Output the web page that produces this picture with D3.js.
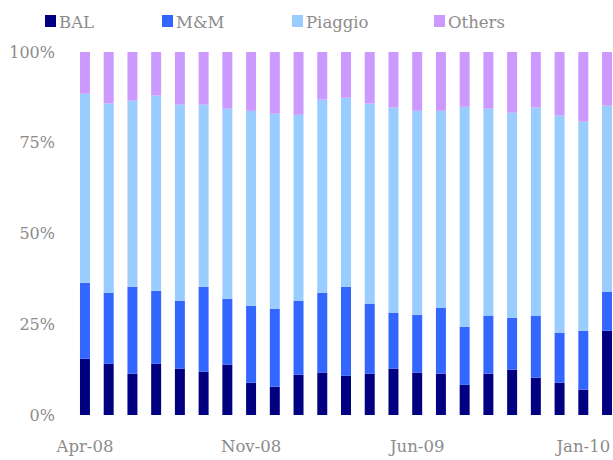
<!DOCTYPE html>
<html>
<head>
<meta charset="utf-8">
<script src="https://cdn.jsdelivr.net/npm/d3@7"></script>
<style>
  body { margin: 0; background: #fff; }
  text { font-family: "DejaVu Serif", serif; fill: #8c8c8c; }
</style>
</head>
<body>
<div class="chart"></div>
<script>
// monthly market share, Apr-08 .. Feb-10 (in %)
var months = ["Apr-08","May-08","Jun-08","Jul-08","Aug-08","Sep-08","Oct-08","Nov-08","Dec-08",
              "Jan-09","Feb-09","Mar-09","Apr-09","May-09","Jun-09","Jul-09","Aug-09","Sep-09",
              "Oct-09","Nov-09","Dec-09","Jan-10","Feb-10"];
var bal     = [15.5,14.1,11.4,14.1,12.8,11.9,13.9,8.9,7.8,11.1,11.7,10.8,11.4,12.8,11.7,11.4,8.3,11.4,12.5,10.3,8.9,7.0,23.2];
var mm      = [20.9,19.6,23.9,20.1,18.7,23.4,18.1,21.2,21.5,20.4,22.0,24.5,19.3,15.4,15.9,18.2,16.0,16.0,14.3,17.1,13.8,16.2,10.8];
var piaggio = [52.1,52.1,51.3,53.8,54.0,50.2,52.4,53.7,53.7,51.2,53.2,52.1,55.1,56.5,56.2,54.2,60.6,57.0,56.5,57.3,59.8,57.6,51.2];
var others  = [11.5,14.2,13.4,12.0,14.5,14.5,15.6,16.2,17.0,17.3,13.1,12.6,14.2,15.3,16.2,16.2,15.1,15.6,16.7,15.3,17.5,19.2,14.8];
var seriesNames = ["BAL","M&M","Piaggio","Others"];
var seriesColors = ["#000080","#3366ff","#99ccff","#cc99ff"];
var xLabels = ["Apr-08","Nov-08","Jun-09","Jan-10"];
var yTicks = [0, 0.25, 0.5, 0.75, 1];

var rows = months.map(function(m, i) {
    var r = { month: m };
    r["BAL"] = bal[i];
    r["M&M"] = mm[i];
    r["Piaggio"] = piaggio[i];
    r["Others"] = others[i];
    return r;
});

var stacked = d3.stack().keys(seriesNames).offset(d3.stackOffsetExpand)(rows);

var svg = d3.select(".chart")
            .append("svg")
            .attr("width", 613)
            .attr("height", 460);

var x = d3.scaleBand()
          .domain(months)
          .range([73.1, 618.9])
          .paddingInner(0.58)
          .paddingOuter(0.29);

var y = d3.scaleLinear()
          .domain([0, 1])
          .range([415, 52]);

svg.selectAll("g.series")
    .data(stacked)
  .enter()
    .append("g")
    .attr("class", "series")
    .style("fill", function(d, i) { return seriesColors[i]; })
  .selectAll("rect")
    .data(function(d) { return d; })
  .enter()
    .append("rect")
    .attr("x", function(d) { return x(d.data.month); })
    .attr("width", x.bandwidth())
    .attr("y", function(d) { return y(d[1]); })
    .attr("height", function(d) { return y(d[0]) - y(d[1]); });

// y axis labels
var yAxis = svg.append("g")
    .attr("transform", "translate(55,0)")
    .call(d3.axisLeft(y).tickValues(yTicks).tickFormat(d3.format(".0%")).tickSize(0).tickPadding(0));
yAxis.select(".domain").remove();
yAxis.selectAll("text")
    .style("font-family", "DejaVu Serif, serif")
    .style("font-size", "16px")
    .style("fill", "#8c8c8c");

// x axis labels
var xAxis = svg.append("g")
    .attr("transform", "translate(0,415)")
    .call(d3.axisBottom(x).tickValues(xLabels).tickSize(0).tickPadding(25));
xAxis.select(".domain").remove();
xAxis.selectAll("text")
    .style("font-family", "DejaVu Serif, serif")
    .style("font-size", "16.5px")
    .style("fill", "#8c8c8c");

// legend
var legendX = [45, 162, 292, 434];
var legend = svg.selectAll("g.legend")
    .data(seriesNames)
  .enter()
    .append("g")
    .attr("class", "legend")
    .attr("transform", function(d, i) { return "translate(" + legendX[i] + ",15)"; });

legend.append("rect")
    .attr("width", 11)
    .attr("height", 12)
    .style("fill", function(d, i) { return seriesColors[i]; });

legend.append("text")
    .attr("x", 14)
    .attr("y", 13)
    .style("font-size", "16.5px")
    .text(function(d) { return d; });
</script>
</body>
</html>
